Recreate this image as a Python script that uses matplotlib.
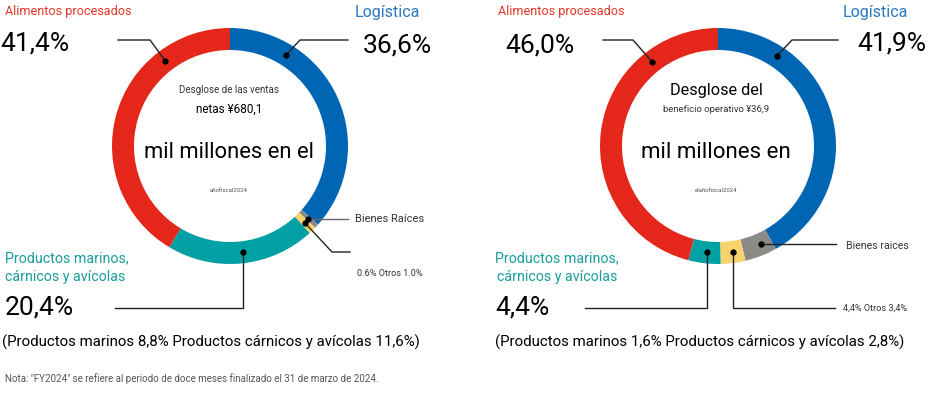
import numpy as np
import matplotlib
matplotlib.use('Agg')
import matplotlib.pyplot as plt

plt.rcParams['font.family'] = ['Roboto', 'DejaVu Sans']

# segment order (clockwise from top)
segments = ['Logística', 'Bienes Raíces', 'Otros', 'Productos marinos', 'Alimentos procesados']
ventas = [36.6, 0.6, 1.0, 20.4, 41.4]
beneficio = [41.9, 4.4, 3.4, 4.4, 46.0]
colors = ['#0066b3', '#8a8a86', '#f8d26c', '#00a0a4', '#e4271a']

# where the leader-line dot sits inside each wedge (fraction of its angle span)
dot_frac_l = [0.24, 0.5, 0.5, 0.48, 0.75]
dot_frac_r = [0.22, 0.35, 0.45, 0.45, 0.77]

R = 118
W = 22
centers = [(230, 146), (718, 146)]

fig = plt.figure(figsize=(9.41, 3.93), dpi=100)
ax = fig.add_axes([0, 0, 1, 1])


def donut(vals, center, fracs):
    wedges, _ = ax.pie(vals, colors=colors, startangle=-90, counterclock=True,
                       radius=R, center=center,
                       wedgeprops=dict(width=W, linewidth=0))
    pts = []
    for w, f in zip(wedges, fracs):
        a = np.radians(w.theta1 + f * (w.theta2 - w.theta1))
        rr = R - W / 2
        pts.append((center[0] + rr * np.cos(a), center[1] + rr * np.sin(a)))
    return pts


pl = donut(ventas, centers[0], dot_frac_l)
pr = donut(beneficio, centers[1], dot_frac_r)

ax.set_xlim(0, 941)
ax.set_ylim(393, 0)
ax.axis('off')

dark = '#222222'
grey = '#666666'


def leader(p, path, col=dark):
    xs = [p[0]] + [q[0] for q in path]
    ys = [p[1]] + [q[1] for q in path]
    ax.plot(xs, ys, color=col, lw=1, solid_joinstyle='miter', zorder=4)
    ax.plot(p[0], p[1], 'o', color='black', ms=3.5, zorder=5)


# left leaders
leader(pl[4], [(150, 40), (118, 40)])
leader(pl[0], [(300, 40), (348, 40)])
leader(pl[1], [(348, pl[1][1])], grey)
leader(pl[2], [(332, 252), (350, 252)], dark)
leader(pl[3], [(pl[3][0], 308), (115, 308)])

# right leaders
leader(pr[4], [(633, 40), (603, 40)])
leader(pr[0], [(792, 40), (838, 40)])
leader(pr[1], [(836, pr[1][1])])
leader(pr[3], [(pr[3][0], 308), (585, 308)])
leader(pr[2], [(pr[2][0], 308), (835, 308)])

red_t = '#e03526'
blue_t = '#2a78bf'
teal_t = '#1a9c9c'

# left texts
ax.text(5, 12, 'Alimentos procesados', color=red_t, fontsize=9.1, va='center')
ax.text(0, 44, '41,4%', fontsize=19, va='center')
ax.text(355, 13, 'Logística', color=blue_t, fontsize=11.5, va='center')
ax.text(363, 45, '36,6%', fontsize=19, va='center')
ax.text(229, 90, 'Desglose de las ventas', fontsize=7, ha='center', va='center', color='#333333')
ax.text(229, 109, 'netas ¥680,1', fontsize=8.5, ha='center', va='center')
ax.text(229, 152, 'mil millones en el', fontsize=15.8, ha='center', va='center')
ax.text(229, 190, 'añofiscal2024', fontsize=4.3, ha='center', va='center', color='#555555')
ax.text(355, 219, 'Bienes Raíces', fontsize=8, va='center', color='#333333')
ax.text(357, 274, '0.6% Otros 1.0%', fontsize=6.6, va='center', color='#333333')
ax.text(5, 258, 'Productos marinos,', color=teal_t, fontsize=10.3, va='center')
ax.text(5, 277, 'cárnicos y avícolas', color=teal_t, fontsize=10.3, va='center')
ax.text(5, 308, '20,4%', fontsize=19, va='center')
ax.text(2, 342, '(Productos marinos 8,8% Productos cárnicos y avícolas 11,6%)',
        fontsize=10.85, va='center')
ax.text(5, 379, 'Nota: "FY2024" se refiere al periodo de doce meses finalizado el 31 de marzo de 2024.',
        fontsize=7.0, va='center', color='#555555')

# right texts
ax.text(498, 12, 'Alimentos procesados', color=red_t, fontsize=9.1, va='center')
ax.text(505, 46, '46,0%', fontsize=19, va='center')
ax.text(843, 13, 'Logística', color=blue_t, fontsize=11.5, va='center')
ax.text(857, 44, '41,9%', fontsize=19, va='center')
ax.text(716, 90, 'Desglose del', fontsize=11.7, ha='center', va='center')
ax.text(716, 110, 'beneficio operativo ¥36,9', fontsize=6.8, ha='center', va='center', color='#333333')
ax.text(716, 152, 'mil millones en', fontsize=16, ha='center', va='center')
ax.text(716, 191, 'elañofiscal2024', fontsize=4.3, ha='center', va='center', color='#555555')
ax.text(846, 246, 'Bienes raices', fontsize=7.7, va='center', color='#333333')
ax.text(843, 308, '4,4% Otros 3,4%', fontsize=6.6, va='center', color='#333333')
ax.text(495, 258, 'Productos marinos,', color=teal_t, fontsize=10.3, va='center')
ax.text(497, 277, 'cárnicos y avícolas', color=teal_t, fontsize=10.3, va='center')
ax.text(495, 308, '4,4%', fontsize=19, va='center')
ax.text(495, 342, '(Productos marinos 1,6% Productos cárnicos y avícolas 2,8%)',
        fontsize=10.85, va='center')

fig.savefig('out.png', dpi=100)
